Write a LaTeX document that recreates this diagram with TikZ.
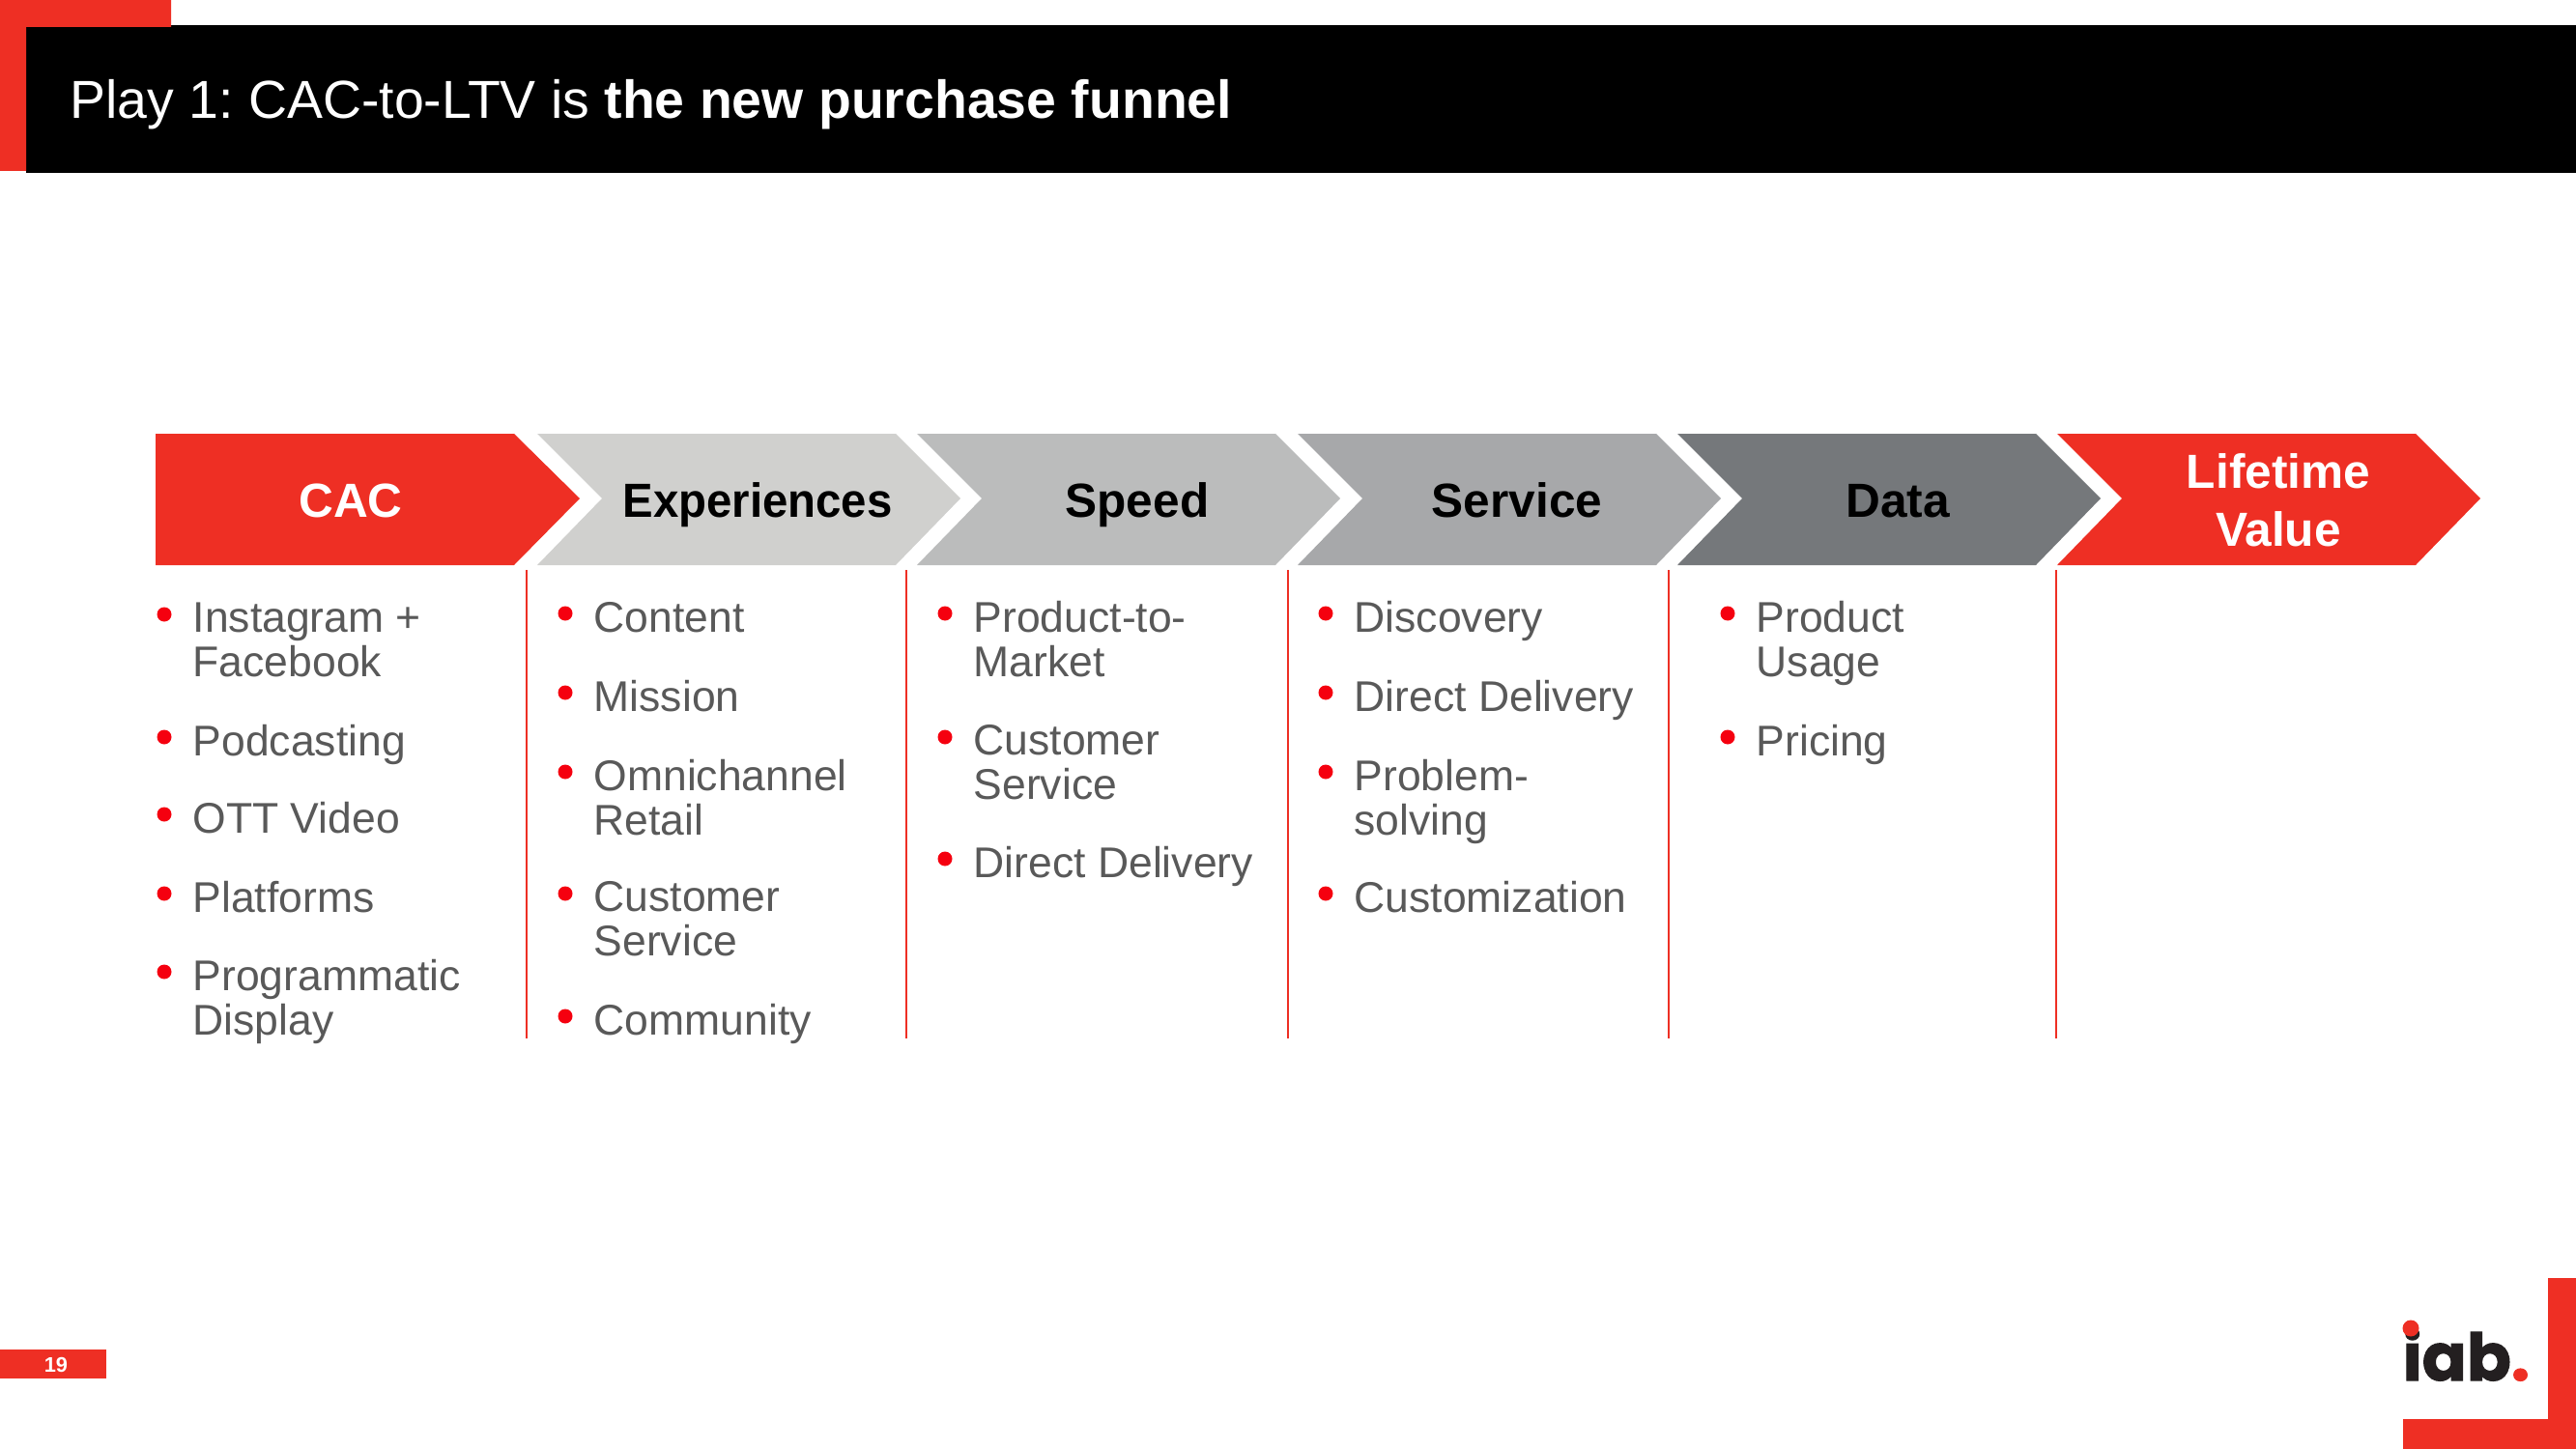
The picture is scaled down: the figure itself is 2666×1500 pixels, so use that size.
\documentclass[tikz,border=0pt]{standalone}
\usepackage{fontspec}
\usepackage{graphicx}
\setmainfont{Liberation Sans}
\newfontfamily\logofont[BoldFeatures={FakeBold=1.5}]{Poppins}
\usetikzlibrary{calc}
\definecolor{iabred}{HTML}{EE2F24}
\definecolor{dotred}{HTML}{F5000F}
\definecolor{itemgrey}{HTML}{595959}
\definecolor{logoblack}{HTML}{231F20}
\definecolor{barA}{HTML}{D0D0CE}
\definecolor{barB}{HTML}{BBBCBC}
\definecolor{barC}{HTML}{A7A8AA}
\definecolor{barD}{HTML}{75787B}
\tikzset{
	itemtext/.style={anchor=north west, inner sep=0pt, align=left, text=itemgrey, font=\fontsize{12.65}{13.05}\selectfont, execute at begin node=\strut},
	barlabel/.style={anchor=base, inner sep=0pt, align=center, font=\fontsize{14.1}{17}\selectfont\bfseries},
	divider/.style={draw=iabred, line width=0.45pt}
}
\def\listitem#1(#2,#3)#4{\node[itemtext] (#1) at (#2,#3) {#4}; \fill[dotred] ($(#1.north west)+(-29,13)$) circle (7.5);}
\def\chevronbar[#1](#2){\fill[#1] (#2,449) -- ++(371,0) -- ++(67,67) -- ++(-67,69) -- ++(-371,0) -- ++(67,-69) -- cycle;}

\begin{document}
\frenchspacing
\begin{tikzpicture}[x=0.01cm,y=-0.01cm]
	\useasboundingbox (0,0) rectangle (2666,1500);
	
	\fill[black] (27,26) rectangle (2666,179);
	\fill[iabred] (0,0) -- (177,0) -- (177,28) -- (27,28) -- (27,177) -- (0,177) -- cycle;
	\node[anchor=base west, inner sep=0pt, text=white, font=\fontsize{15.75}{18}\selectfont] (title) at (72,123) {Play 1: CAC-to-LTV is \textbf{the new purchase funnel}};
	
	\fill[iabred] (161,449) -- (532,449) -- (600,516) -- (532,585) -- (161,585) -- cycle;
	\node[barlabel, text=white] (cac) at (363,535) {CAC};
	\chevronbar[barA](556);
	\node[barlabel, text=black] (experiences) at (784,535) {\scalebox{0.955}[1]{Experiences}};
	\chevronbar[barB](949);
	\node[barlabel, text=black] (speed) at (1177,535) {Speed};
	\chevronbar[barC](1343);
	\node[barlabel, text=black] (service) at (1570,535) {Service};
	\chevronbar[barD](1736);
	\node[barlabel, text=black] (data) at (1964,535) {Data};
	\chevronbar[iabred](2129);
	\node[barlabel, text=white, anchor=center] (lifetime) at (2358,518) {Lifetime\\Value};
	
	\draw[divider] (545,590) -- (545,1075);
	\draw[divider] (938,590) -- (938,1075);
	\draw[divider] (1333,590) -- (1333,1075);
	\draw[divider] (1727,590) -- (1727,1075);
	\draw[divider] (2128,590) -- (2128,1075);
	
	\listitem{instagram}(199,623){Instagram +\\Facebook}
	\listitem{podcasting}(199,750){Podcasting}
	\listitem{ott}(199,830){OTT Video}
	\listitem{platforms}(199,912){Platforms}
	\listitem{programmatic}(199,993){Programmatic\\Display}
	
	\listitem{content}(614,622){Content}
	\listitem{mission}(614,704){Mission}
	\listitem{omnichannel}(614,786){Omnichannel\\Retail}
	\listitem{custservA}(614,912){Customer\\Service}
	\listitem{community}(614,1039){Community}
	
	\listitem{product}(1007,622){Product-to-\\Market}
	\listitem{custservB}(1007,750){Customer\\Service}
	\listitem{deliveryA}(1007,876){Direct Delivery}
	
	\listitem{discovery}(1401,622){Discovery}
	\listitem{deliveryB}(1401,704){Direct Delivery}
	\listitem{problem}(1401,786){Problem-\\solving}
	\listitem{custom}(1401,912){Customization}
	
	\listitem{usage}(1817,622){Product\\Usage}
	\listitem{pricing}(1817,750){Pricing}
	
	\fill[iabred] (0,1397) rectangle (110,1427);
	\node[inner sep=0pt, text=white, font=\fontsize{6.2}{7}\selectfont\bfseries] (pagenum) at (58,1413) {19};
	
	\fill[iabred] (2637,1323) -- (2666,1323) -- (2666,1500) -- (2487,1500) -- (2487,1469) -- (2637,1469) -- cycle;
	\node[anchor=base west, inner sep=0pt, text=logoblack, font=\fontsize{19.3}{21}\logofont\bfseries] (logo) at (2486,1429) {iab\textcolor{iabred}{.}};
	\fill[iabred] (2495,1375) circle (8.5);
\end{tikzpicture}
\end{document}
